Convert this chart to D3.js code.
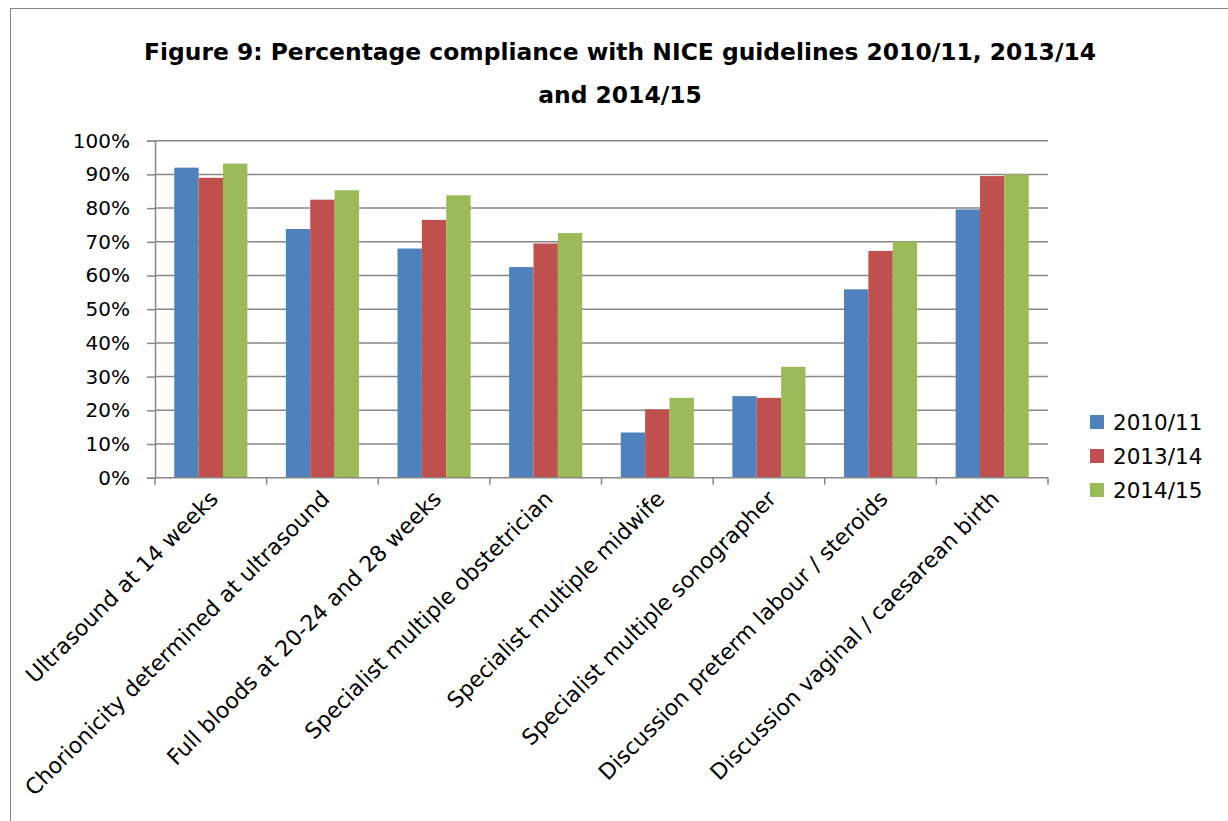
<!DOCTYPE html>
<html>
<head>
<meta charset="utf-8">
<script src="https://cdn.jsdelivr.net/npm/d3@7"></script>
<style>
  body { margin: 0; background: #ffffff; }
  text { font-family: "DejaVu Sans", sans-serif; fill: #000000; }
</style>
</head>
<body>
<svg id="chart" width="1228" height="821"></svg>
<script>
const categories = [
    "Ultrasound at 14 weeks",
    "Chorionicity determined at ultrasound",
    "Full bloods at 20-24 and 28 weeks",
    "Specialist multiple obstetrician",
    "Specialist multiple midwife",
    "Specialist multiple sonographer",
    "Discussion preterm labour / steroids",
    "Discussion vaginal / caesarean birth"
];
const seriesNames = ["2010/11", "2013/14", "2014/15"];
const values2010 = [0.920, 0.738, 0.680, 0.625, 0.134, 0.242, 0.559, 0.796];
const values2013 = [0.890, 0.825, 0.765, 0.695, 0.203, 0.237, 0.673, 0.895];
const values2014 = [0.932, 0.853, 0.838, 0.726, 0.237, 0.329, 0.701, 0.900];
const yTicks = [0, 0.1, 0.2, 0.3, 0.4, 0.5, 0.6, 0.7, 0.8, 0.9, 1.0];

const svg = d3.select("#chart"),
    plot = { left: 155, right: 1048, top: 140.7, bottom: 477.7 };

const seriesValues = [values2010, values2013, values2014];
const colors = ["#4F81BD", "#C0504D", "#9BBB59"];

// outer frame
svg.append("rect")
    .attr("x", 10.5).attr("y", 8.5)
    .attr("width", 1400).attr("height", 1000)
    .attr("fill", "none")
    .attr("stroke", "#868686");

// title
const title = svg.append("text")
    .attr("text-anchor", "middle")
    .style("font-weight", "bold")
    .style("font-size", "23.4px");
title.append("tspan").attr("x", 620).attr("y", 60)
    .text("Figure 9: Percentage compliance with NICE guidelines 2010/11, 2013/14");
title.append("tspan").attr("x", 620).attr("y", 103)
    .text("and 2014/15");

const xb = d3.scaleBand()
    .domain(categories)
    .range([plot.left, plot.right]);

const x1 = d3.scaleBand()
    .domain(seriesNames)
    .range([0, xb.bandwidth()])
    .paddingOuter(0.79);

const y = d3.scaleLinear()
    .domain([0, 1])
    .range([plot.bottom, plot.top]);

// gridlines
svg.append("g")
    .selectAll("line")
    .data(yTicks.slice(1))
    .join("line")
    .attr("x1", plot.left).attr("x2", plot.right)
    .attr("y1", d => y(d)).attr("y2", d => y(d))
    .attr("stroke", "#878787")
    .attr("stroke-width", 1.5);

// bars
const chartData = categories.map((c, i) => ({
    cat: c,
    vals: seriesNames.map((s, j) => ({ key: s, value: seriesValues[j][i], color: colors[j] }))
}));

svg.append("g")
    .selectAll("g")
    .data(chartData)
    .join("g")
    .attr("transform", d => `translate(${xb(d.cat)},0)`)
    .selectAll("rect")
    .data(d => d.vals)
    .join("rect")
    .attr("x", d => x1(d.key))
    .attr("y", d => y(d.value))
    .attr("width", x1.bandwidth())
    .attr("height", d => y(0) - y(d.value))
    .attr("fill", d => d.color);

// y axis
const yAxis = svg.append("g")
    .attr("transform", `translate(${plot.left},0)`)
    .call(d3.axisLeft(y).tickValues(yTicks).tickFormat(d3.format(".0%"))
        .tickSize(8).tickPadding(17));
yAxis.select(".domain").attr("stroke", "#878787").attr("stroke-width", 1.5);
yAxis.selectAll(".tick line").attr("stroke", "#878787").attr("stroke-width", 1.5);
yAxis.selectAll(".tick text")
    .style("font-size", "20px")
    .style("font-family", "DejaVu Sans, sans-serif")
    .attr("fill", "#000");

// x axis
const xAxis = svg.append("g");
xAxis.append("line")
    .attr("x1", plot.left).attr("x2", plot.right)
    .attr("y1", plot.bottom).attr("y2", plot.bottom)
    .attr("stroke", "#878787").attr("stroke-width", 1.5);
xAxis.selectAll(".bt")
    .data(categories.concat([null]))
    .join("line")
    .attr("class", "bt")
    .attr("x1", d => d === null ? plot.right : xb(d))
    .attr("x2", d => d === null ? plot.right : xb(d))
    .attr("y1", plot.bottom).attr("y2", plot.bottom + 7)
    .attr("stroke", "#878787").attr("stroke-width", 1.5);

xAxis.selectAll(".xl")
    .data(categories)
    .join("text")
    .attr("class", "xl")
    .attr("text-anchor", "end")
    .attr("dy", "0.35em")
    .attr("transform", d => `translate(${xb(d) + xb.bandwidth() / 2 + 3},${plot.bottom + 17}) rotate(-45)`)
    .style("font-size", "22px")
    .text(d => d);

// legend
const legend = svg.append("g")
    .attr("transform", "translate(1090,422)");
seriesNames.forEach((s, i) => {
    const g = legend.append("g").attr("transform", `translate(0,${i * 34})`);
    g.append("rect")
        .attr("x", 0).attr("y", -7)
        .attr("width", 14).attr("height", 14)
        .attr("fill", colors[i]);
    g.append("text")
        .attr("x", 23)
        .attr("dy", "0.35em")
        .style("font-size", "21.5px")
        .text(s);
});
</script>
</body>
</html>
